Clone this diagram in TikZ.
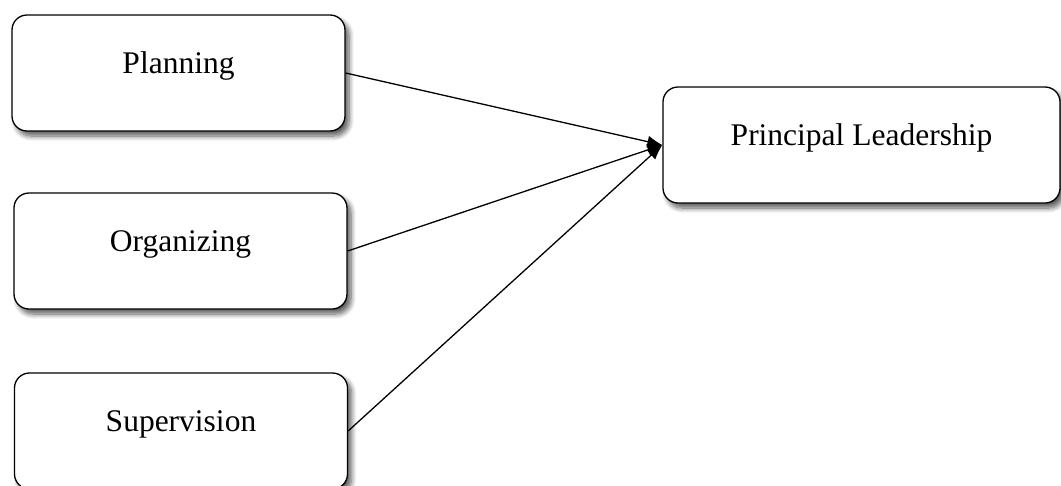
\documentclass[tikz,border=0pt]{standalone}
\usepackage{fontspec}
\setmainfont{Liberation Serif}
\usetikzlibrary{arrows.meta,shadows.blur}
\begin{document}
\begin{tikzpicture}[x=1pt,y=-1pt,
  box/.style={draw=black, line width=1.3pt, rounded corners=15pt, fill=white,
    minimum width=#1, inner sep=0pt, text height=58pt, text depth=58pt,
    font=\fontsize{31.5}{36}\selectfont,
    blur shadow={shadow xshift=4pt, shadow yshift=-5pt, shadow blur steps=8, shadow blur radius=5pt, shadow opacity=65}},
  box/.default=333pt,
  conn/.style={line width=1.3pt, -{Latex[length=15pt,width=12pt]}}]
\useasboundingbox (0,0) rectangle (1061,485);
\node[box] (plan) at (178.5,73) {Planning};
\node[box] (org) at (180.5,251) {Organizing};
\node[box] (sup) at (181,431) {Supervision};
\node[box=397pt] (lead) at (861.5,145) {Principal Leadership};
\draw[conn] (plan.east) -- (lead.west);
\draw[conn] (org.east) -- (lead.west);
\draw[conn] (sup.east) -- (lead.west);
\end{tikzpicture}
\end{document}
